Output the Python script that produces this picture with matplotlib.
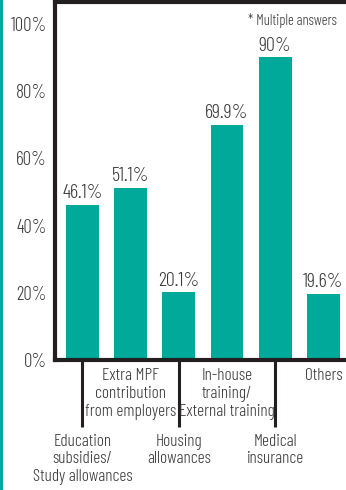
import matplotlib.pyplot as plt
from matplotlib.patches import Rectangle
import numpy as np

# benefits offered, share of respondents (multiple answers)
lower_labels = ["Education\nsubsidies/\nStudy allowances", "Housing\nallowances", "Medical\ninsurance"]
upper_labels = ["Extra MPF\ncontribution\nfrom employers", "In-house\ntraining/\nExternal training", "Others"]
values = [46.1, 51.1, 20.1, 69.9, 90.0, 19.6]
value_text = ["46.1%", "51.1%", "20.1%", "69.9%", "90%", "19.6%"]
yticks = [0, 20, 40, 60, 80, 100]

TEAL = "#00a999"
INK = "#231f20"
TEXT = "#383838"

plt.rcParams["font.family"] = ["Barlow Condensed", "DejaVu Sans"]
plt.rcParams["font.weight"] = 300

W, H = 346, 490
fig = plt.figure(figsize=(W / 100, H / 100), dpi=100)
ax = fig.add_axes([55 / W, (H - 360) / H, 1 - 55 / W, 358 / H])

x = np.arange(len(values))
bars = ax.bar(x, values, width=0.68, color=TEAL, zorder=2)
for b, t in zip(bars, value_text):
    ax.annotate(t, (b.get_x() + b.get_width() / 2, b.get_height()),
                xytext=(0, 2), textcoords="offset points",
                ha="center", va="bottom", fontsize=14.5, color=TEXT)

ax.set_xlim(-0.57, 5.47)
ax.set_ylim(0, 106.5)
ax.set_yticks(yticks)
ax.set_yticklabels([f"{v}%" for v in yticks], fontsize=13.5, color=TEXT)
ax.tick_params(axis="y", length=0, pad=6)

# long ticks under bars 1, 3, 5 carry the lower row of labels
ax.set_xticks(x[::2])
ax.set_xticklabels(lower_labels, fontsize=12.5, color=TEXT, linespacing=1.15)
ax.set_xticks(x[1::2], minor=True)
ax.set_xticklabels(upper_labels, minor=True, fontsize=12.5, color=TEXT, linespacing=1.15)
ax.tick_params(axis="x", which="major", length=48, width=2.2, color=INK, pad=5)
ax.tick_params(axis="x", which="minor", length=0, pad=6)

for side in ("left", "bottom", "top"):
    ax.spines[side].set_linewidth(3)
    ax.spines[side].set_color(INK)
ax.spines["right"].set_visible(False)

ax.text(0.97, 0.97, "* Multiple answers", transform=ax.transAxes,
        ha="right", va="top", fontsize=10.5, color=TEXT)

# teal rule on the left edge of the page
fig.add_artist(Rectangle((0, 0), 3 / W, 1, transform=fig.transFigure,
                         color=TEAL, lw=0))

fig.savefig("out.png", dpi=100)
